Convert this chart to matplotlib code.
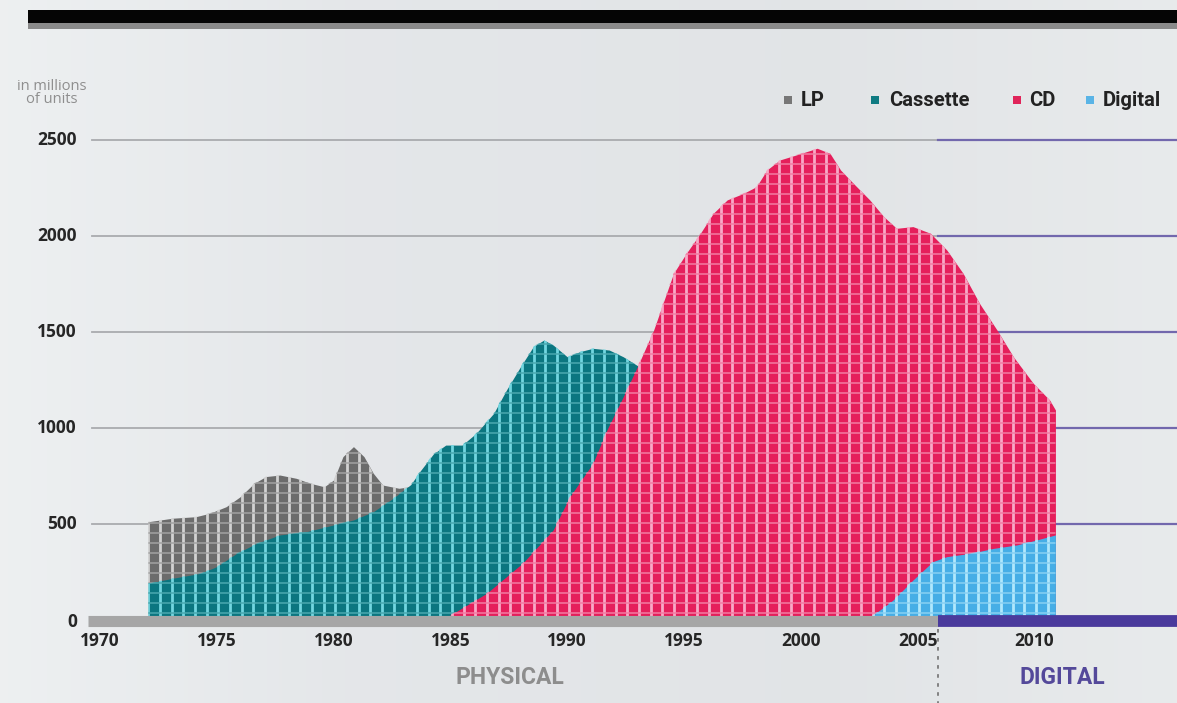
import matplotlib
matplotlib.use("Agg")
import matplotlib.pyplot as plt
import matplotlib.patches as mpatches
import numpy as np

# ---- data (millions of units) ----
lp_years = [1972.07, 1973.1, 1974.1, 1974.7, 1975.4, 1976.0, 1976.6, 1977.1, 1977.7,
            1978.4, 1979.0, 1979.6, 1980.0, 1980.4, 1980.85, 1981.3, 1981.7, 1982.1,
            1982.8, 1983.3, 1983.6]
lp_units = [512, 530, 538, 556, 590, 642, 712, 747, 755,
            738, 712, 694, 729, 851, 903, 851, 764, 703,
            686, 695, 700]

cassette_years = [1972.07, 1973.1, 1974.3, 1975.0, 1975.85, 1976.7, 1977.7, 1978.85,
                  1979.7, 1980.85, 1981.7, 1982.55, 1983.0, 1983.3, 1983.7, 1984.27,
                  1984.8, 1985.5, 1986.1, 1986.85, 1987.4, 1988.0, 1988.55, 1989.0,
                  1989.4, 1990.0, 1990.55, 1991.1, 1991.8, 1992.4, 1992.85, 1993.2]
cassette_units = [191, 217, 243, 278, 347, 399, 443, 460,
                  486, 521, 564, 634, 677, 705, 775, 865,
                  911, 911, 972, 1076, 1198, 1319, 1424, 1458,
                  1432, 1371, 1398, 1415, 1406, 1371, 1337, 1310]

cd_years = [1984.5, 1985.0, 1986.55, 1988.1, 1989.4, 1990.1, 1991.1, 1991.7, 1992.4,
            1993.0, 1993.7, 1994.1, 1994.55, 1995.1, 1995.7, 1996.25, 1996.85, 1997.55,
            1998.1, 1998.55, 1999.1, 1999.8, 2000.7, 2001.25, 2001.7, 2002.25, 2002.95,
            2003.55, 2004.1, 2004.8, 2005.55, 2006.25, 2006.95, 2007.65, 2008.4, 2009.1,
            2009.95, 2010.65, 2010.9]
cd_units = [0, 26, 139, 297, 469, 640, 816, 990, 1163,
            1318, 1510, 1649, 1805, 1910, 2014, 2118, 2188, 2222,
            2257, 2344, 2396, 2422, 2457, 2430, 2344, 2274, 2188,
            2101, 2040, 2049, 2014, 1927, 1805, 1649, 1510, 1371,
            1233, 1146, 1094]

digital_years = [2002.8, 2003.1, 2003.95, 2004.8, 2005.65, 2006.25, 2007.25, 2008.25,
                 2009.25, 2010.1, 2010.9]
digital_units = [0, 26, 104, 208, 304, 330, 347, 373, 391, 417, 443]

year_ticks = [1970, 1975, 1980, 1985, 1990, 1995, 2000, 2005, 2010]
unit_ticks = [0, 500, 1000, 1500, 2000, 2500]
legend_labels = ["LP", "Cassette", "CD", "Digital"]

# ---- pixel <-> data mapping of the reference layout ----
W, H = 1177, 703
PX_PER_YEAR = 23.36
PX_PER_UNIT = 0.192
X_ORIGIN_PX = 100   # column of 1970
Y_ORIGIN_PX = 620   # row of 0


def X(px):
    return 1970 + (px - X_ORIGIN_PX) / PX_PER_YEAR


def Y(py):
    return (Y_ORIGIN_PX - py) / PX_PER_UNIT


SPLIT_PX = 938          # physical / digital boundary
NARROW = ["Roboto", "DejaVu Sans"]
plt.rcParams["font.family"] = ["Open Sans", "DejaVu Sans"]

fig = plt.figure(figsize=(W / 100, H / 100), dpi=100)
ax = fig.add_axes([0, 0, 1, 1])
ax.set_xlim(X(0), X(W))
ax.set_ylim(Y(H), Y(0))
ax.axis("off")

# soft background gradient
stops = [0.0, 0.3, 0.7, 1.0]
cols = np.array([[0.93, 0.94, 0.945], [0.895, 0.905, 0.915],
                 [0.885, 0.895, 0.905], [0.91, 0.92, 0.925]])
t = np.linspace(0, 1, 300)
grad = np.stack([np.interp(t, stops, cols[:, c]) for c in range(3)], axis=-1)
ax.imshow(grad[None, :, :], extent=[X(0), X(W), Y(H), Y(0)], aspect="auto", zorder=0)

# top black rule
ax.add_patch(mpatches.Rectangle((X(28), Y(29)), X(W) - X(28), Y(23) - Y(29),
                                color="#8a8a8a", lw=0, zorder=1))
ax.add_patch(mpatches.Rectangle((X(28), Y(23)), X(W) - X(28), Y(10) - Y(23),
                                color="#050505", lw=0, zorder=1))

# horizontal gridlines
for v in unit_ticks[1:]:
    ax.plot([X(92), X(SPLIT_PX)], [v, v], color="#a9abae", lw=1.3, zorder=1)
    ax.plot([X(SPLIT_PX), X(W)], [v, v], color="#7268ad", lw=1.6, zorder=1)

# overlapping areas with a light cell pattern
vgrid = 1972.07 + 0.5 * np.arange(0, 78)
hgrid = 36 + 52 * np.arange(0, 50)
series = [
    (lp_years, lp_units, "#6c6c6c", "#d2d2d2", "#a2a2a2"),
    (cassette_years, cassette_units, "#0b7680", "#72d6e0", "#4aa8b0"),
    (cd_years, cd_units, "#e51f5b", "#f8a9c6", "#f27ca2"),
    (digital_years, digital_units, "#46aee6", "#b0e8fc", "#88d0f3"),
]
for i, (xs, ys, fc, vc, hc) in enumerate(series):
    z = 3 + 2 * i
    poly = ax.fill_between(xs, ys, 0, color=fc, lw=0, zorder=z)
    clip = poly.get_paths()[0]
    vl = ax.vlines(vgrid, 0, 2700, colors=vc, lw=2.0, zorder=z + 0.5)
    vl.set_clip_path(clip, ax.transData)
    hl = ax.hlines(hgrid, X(0), X(W), colors=hc, lw=1.1, zorder=z + 0.5)
    hl.set_clip_path(clip, ax.transData)

# baseline bars
ax.plot([X(88), X(SPLIT_PX)], [Y(620.5)] * 2, color="#a6a6a6", lw=8,
        solid_capstyle="butt", zorder=20)
ax.plot([X(SPLIT_PX), X(W)], [Y(620.5)] * 2, color="#4a3a9c", lw=8.5,
        solid_capstyle="butt", zorder=20)
ax.plot([X(SPLIT_PX)] * 2, [Y(629), Y(H)], color="#7a7a7a", lw=1.3,
        ls=(0, (2, 3)), zorder=20)

# tick labels
for v in unit_ticks:
    ax.text(X(77), v if v else Y(622), str(v), ha="right", va="center",
            fontsize=12.5, fontweight="bold", color="#262626", zorder=21)
for yr in year_ticks:
    ax.text(yr, Y(641), str(yr), ha="center", va="center",
            fontsize=12.5, fontweight="bold", color="#262626", zorder=21)

ax.text(X(52), Y(93), "in millions\nof units", ha="center", va="center",
        fontsize=10.5, color="#8e8e8e", linespacing=0.9, zorder=21)

# legend
legend_colors = ["#777777", "#0f7b82", "#e0245a", "#5ab4e6"]
legend_sq_px = [788, 875, 1017, 1090]
legend_txt_px = [801, 889, 1029, 1103]
for lab, c, sx, tx in zip(legend_labels, legend_colors, legend_sq_px, legend_txt_px):
    ax.scatter([X(sx)], [Y(100)], s=28, marker="s", color=c, lw=0, zorder=21)
    ax.text(X(tx), Y(100), lab, ha="left", va="center", fontsize=14.5,
            fontweight="bold", color="#222222", family=NARROW, zorder=21)

ax.text(X(510), Y(677), "PHYSICAL", ha="center", va="center", fontsize=16.5,
        fontweight="bold", color="#8d8d8d", family=NARROW, zorder=21)
ax.text(X(1062), Y(677), "DIGITAL", ha="center", va="center", fontsize=16.5,
        fontweight="bold", color="#54499a", family=NARROW, zorder=21)

fig.savefig("out.png", dpi=100)
plt.close(fig)
